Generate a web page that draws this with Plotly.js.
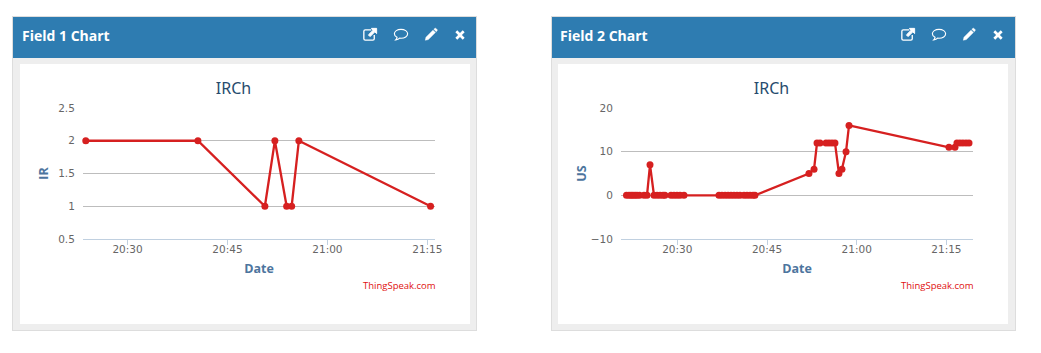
<!DOCTYPE html>
<html>
<head>
<meta charset="utf-8">
<title>Field charts</title>
<script src="https://cdn.plot.ly/plotly-3.0.1.min.js"></script>
<style>
    html, body { margin: 0; padding: 0; background: #fff; overflow: hidden; }
    .panel {
        position: absolute; top: 16px; width: 465px; height: 315px;
        box-sizing: border-box; background: #eee; border: 1px solid #ddd;
    }
    .panel_head {
        height: 41px; background: #2e7cb1; color: #fff; position: relative;
        font: bold 14px/38px "Open Sans", sans-serif; padding-left: 9px;
    }
    .panel_head svg { position: absolute; top: 9px; width: 18px; height: 18px; fill: #fff; stroke: #fff; }
    .plot_box { position: absolute; left: 7px; top: 47px; width: 450px; height: 260px; background: #fff; }
</style>
</head>
<body>
<div class="panel" style="left:12px">
    <div class="panel_head">Field 1 Chart<span class="icons" data-shift="0"></span></div>
    <div class="plot_box" id="chart_1"></div>
</div>
<div class="panel" style="left:551px">
    <div class="panel_head" style="padding-left:8px">Field 2 Chart<span class="icons" data-shift="-1"></span></div>
    <div class="plot_box" id="chart_2" style="left:6px"></div>
</div>
<script>
// field 1 readings
const field1_times = ['20:23:44', '20:40:34', '20:50:37', '20:52:07', '20:53:53', '20:54:38', '20:55:43', '21:15:29'];
const field1_values = [2, 2, 1, 2, 1, 1, 2, 1];

// field 2 readings
const field2_times = [
    '20:21:30', '20:21:55', '20:22:16', '20:22:35', '20:22:56', '20:23:16', '20:23:41', '20:24:26', '20:24:56', '20:25:26',
    '20:26:06', '20:26:37', '20:27:07', '20:27:37', '20:27:56', '20:28:57', '20:29:27', '20:29:57', '20:30:27', '20:31:07',
    '20:36:58', '20:37:28', '20:37:59', '20:38:29', '20:38:59', '20:39:29', '20:39:59', '20:40:29', '20:41:09', '20:41:39',
    '20:42:10', '20:42:40', '20:42:59', '20:52:01', '20:52:52', '20:53:22', '20:53:52', '20:54:52', '20:55:22', '20:55:52',
    '20:56:22', '20:57:02', '20:57:32', '20:58:13', '20:58:43', '21:15:26', '21:16:26', '21:16:46', '21:17:16', '21:17:46',
    '21:18:17', '21:18:47'
];
const field2_values = [
    0, 0, 0, 0, 0, 0, 0, 0, 0, 7,
    0, 0, 0, 0, 0, 0, 0, 0, 0, 0,
    0, 0, 0, 0, 0, 0, 0, 0, 0, 0,
    0, 0, 0, 5, 6, 12, 12, 12, 12, 12,
    12, 5, 6, 10, 16, 11, 11, 12, 12, 12,
    12, 12
];

const x_tick_times = ['20:30:00', '20:45:00', '21:00:00', '21:15:00'];
const x_tick_labels = ['20:30', '20:45', '21:00', '21:15'];
const field1_y_ticks = [0.5, 1, 1.5, 2, 2.5];
const field1_y_labels = ['0.5', '1', '1.5', '2', '2.5'];
const field2_y_ticks = [-10, 0, 10, 20];
const field2_y_labels = ['−10', '0', '10', '20'];

const DAY = '2017-03-14 ';
const at_day = times => times.map(t => DAY + t);

const TICK_FONT = {family: 'DejaVu Sans, sans-serif', size: 10.5, color: '#666666'};
const AXIS_TITLE_FONT = {family: 'Open Sans, sans-serif', size: 12.5, color: '#4d759e', weight: 700};

function draw_chart(div_id, times, values, x_range, y_range, y_ticks, y_labels, y_title, y_standoff) {
    const trace = {
        x: at_day(times), y: values, type: 'scatter', mode: 'lines+markers',
        line: {color: '#d62020', width: 2.3},
        marker: {color: '#d62020', size: 7},
        cliponaxis: false
    };
    const layout = {
        width: 450, height: 260,
        margin: {l: 63, r: 35, t: 44, b: 85},
        paper_bgcolor: '#ffffff', plot_bgcolor: '#ffffff',
        showlegend: false,
        title: {
            text: 'IRCh', x: 0.4745, xanchor: 'center', y: 0.908, yanchor: 'middle',
            font: {family: 'Noto Sans, sans-serif', size: 16, color: '#274b6d'}
        },
        xaxis: {
            type: 'date', range: at_day(x_range), tickmode: 'array',
            tickvals: at_day(x_tick_times), ticktext: x_tick_labels,
            showgrid: false, zeroline: false, showline: true, linecolor: '#c0d0e0', linewidth: 1,
            ticks: 'outside', ticklen: 5, tickcolor: '#c0d0e0', tickwidth: 1,
            ticklabelstandoff: -5,
            tickfont: TICK_FONT,
            title: {text: 'Date', font: AXIS_TITLE_FONT, standoff: 10}
        },
        yaxis: {
            range: y_range, tickmode: 'array', tickvals: y_ticks, ticktext: y_labels,
            showgrid: true, gridcolor: '#bdbdbd', gridwidth: 1, zeroline: false, showline: false,
            ticks: 'outside', ticklen: 5, tickcolor: 'rgba(0,0,0,0)',
            tickfont: TICK_FONT,
            title: {text: y_title, font: AXIS_TITLE_FONT, standoff: y_standoff}
        },
        annotations: [{
            text: 'ThingSpeak.com', xref: 'paper', yref: 'paper', x: 1, y: -0.353, xanchor: 'right', yanchor: 'middle',
            showarrow: false, xshift: 3,
            font: {family: 'Open Sans, sans-serif', size: 9.5, color: '#e01010'}
        }]
    };
    Plotly.newPlot(div_id, [trace], layout, {displayModeBar: false, staticPlot: true});
}

draw_chart('chart_1', field1_times, field1_values, ['20:23:19', '21:16:09'], [0.5, 2.5], field1_y_ticks, field1_y_labels, 'IR', 6);
draw_chart('chart_2', field2_times, field2_values, ['20:20:35', '21:19:27'], [-10, 20], field2_y_ticks, field2_y_labels, 'US', 1);

// header icons
const ICONS = [
    [348, '<path fill="none" stroke-width="1.4" d="M11 4H4.5Q3 4 3 5.5V13.5Q3 15 4.5 15H12.5Q14 15 14 13.5V9.5"/><path stroke-width="1" d="M11 2.5H16.5V8L14.6 6.2L9.6 11.2L7.8 9.4L12.8 4.4Z"/>'],
    [379, '<path fill="none" stroke-width="1.2" d="M9.5 3.5C5.5 3.5 2.5 5.6 2.5 8.2C2.5 9.8 3.6 11.1 5.3 11.9C5.1 13 4.6 13.9 3.9 14.6C5.6 14.4 7.1 13.8 8.1 12.8C8.6 12.9 9 12.9 9.5 12.9C13.5 12.9 16.5 10.8 16.5 8.2C16.5 5.6 13.5 3.5 9.5 3.5Z"/>'],
    [409, '<path stroke-width="0.5" d="M3.5 15L4.2 11.8L11.6 4.4L14.1 6.9L6.7 14.3ZM12.5 3.5L13.4 2.6Q14.1 2.1 14.8 2.6L15.9 3.7Q16.4 4.4 15.9 5.1L15 6Z"/>'],
    [438, '<path stroke="none" d="M6.6 4.6L9.5 7.5L12.4 4.6L14.4 6.6L11.5 9.5L14.4 12.4L12.4 14.4L9.5 11.5L6.6 14.4L4.6 12.4L7.5 9.5L4.6 6.6Z"/>']
];
document.querySelectorAll('.icons').forEach(box => {
    const shift = Number(box.dataset.shift);
    box.innerHTML = ICONS.map(([left, path]) => `<svg viewBox="0 0 19 19" style="left:${left + shift}px">${path}</svg>`).join('');
});
</script>
</body>
</html>
